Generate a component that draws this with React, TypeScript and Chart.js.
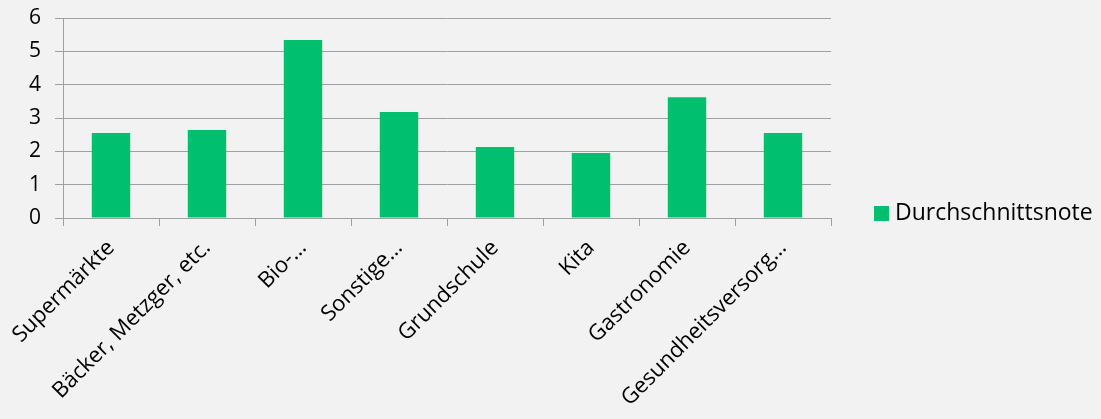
import React, { useEffect, useRef } from "react";
import { Chart, registerables } from "chart.js";

Chart.register(...registerables);

const categories = [
  "Supermärkte",
  "Bäcker, Metzger, etc.",
  "Bio-…",
  "Sonstige…",
  "Grundschule",
  "Kita",
  "Gastronomie",
  "Gesundheitsversorg…",
];
const seriesLabel = "Durchschnittsnote";
const values = [2.55, 2.64, 5.34, 3.18, 2.13, 1.95, 3.62, 2.55];
const yTicks = [0, 1, 2, 3, 4, 5, 6];

const FONT = "'Open Sans', sans-serif";
const GREEN = "#00bf6f";
const GRID = "#a0a0a0";

const legendPlugin = {
  id: "customLegend",
  afterDraw(chart: any) {
    const ctx = chart.ctx;
    const ds = chart.data.datasets[0];
    ctx.save();
    ctx.fillStyle = GREEN;
    ctx.fillRect(874, 206, 15, 15);
    ctx.fillStyle = "#000";
    ctx.font = `23px ${FONT}`;
    ctx.textBaseline = "middle";
    ctx.textAlign = "left";
    ctx.fillText(ds.label, 895, 213);
    ctx.restore();
  },
};

const bgPlugin = {
  id: "bg",
  beforeDraw(chart: any) {
    const ctx = chart.ctx;
    ctx.save();
    ctx.fillStyle = "#f2f2f2";
    ctx.fillRect(0, 0, chart.width, chart.height);
    ctx.restore();
  },
};

export default function App() {
  const ref = useRef<HTMLCanvasElement>(null);
  useEffect(() => {
    document.body.style.margin = "0";
    document.body.style.background = "#f2f2f2";
    const chart = new Chart(ref.current!, {
      type: "bar",
      data: {
        labels: categories,
        datasets: [
          {
            label: seriesLabel,
            data: values,
            backgroundColor: GREEN,
            barPercentage: 0.4,
            categoryPercentage: 1,
          },
        ],
      },
      options: {
        animation: false,
        responsive: false,
        layout: { padding: { top: 18, right: 270, left: 0, bottom: 0 } },
        plugins: { legend: { display: false }, tooltip: { enabled: false } },
        scales: {
          x: {
            grid: {
              offset: true,
              drawOnChartArea: false,
              drawTicks: true,
              tickLength: 8,
              color: GRID,
            },
            border: { color: GRID, width: 1 },
            ticks: {
              color: "#000",
              font: { family: FONT, size: 22 },
              maxRotation: 45,
              minRotation: 45,
              autoSkip: false,
              padding: 9,
            },
            afterFit(scale: any) {
              scale.height = 201;
              scale.paddingTop = 0;
              scale.paddingBottom = 0;
            },
          },
          y: {
            min: 0,
            max: 6,
            afterBuildTicks(scale: any) {
              scale.ticks = yTicks.map((v) => ({ value: v }));
            },
            grid: { color: GRID, tickLength: 8, lineWidth: 1 },
            border: { color: GRID, width: 1 },
            ticks: {
              color: "#000",
              font: { family: FONT, size: 21 },
              padding: 14,
            },
            afterFit(scale: any) {
              scale.width = 63;
              scale.paddingTop = 0;
              scale.paddingBottom = 0;
            },
          },
        },
      },
      plugins: [bgPlugin, legendPlugin],
    });
    return () => chart.destroy();
  }, []);
  return <canvas ref={ref} width={1101} height={419} style={{ display: "block" }} />;
}
